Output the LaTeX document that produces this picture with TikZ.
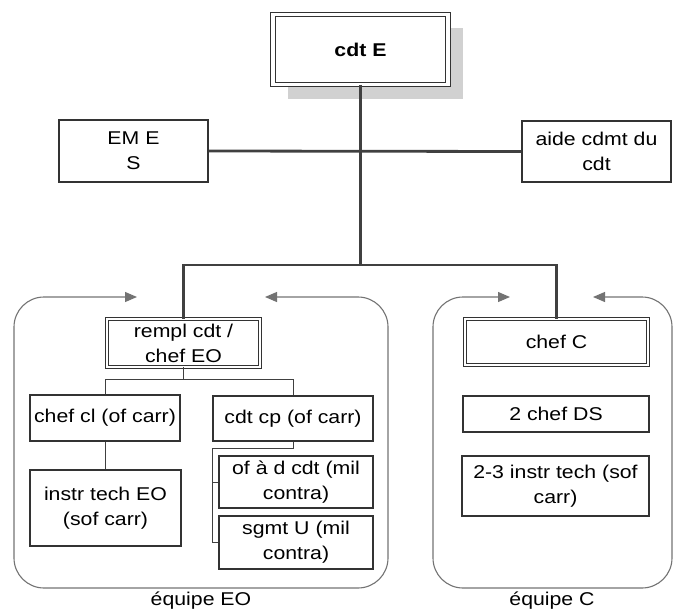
\documentclass[tikz,border=0pt]{standalone}
\usepackage{fontspec}
\setmainfont{Liberation Sans}[FakeStretch=1.15]
\usetikzlibrary{arrows.meta,shadows}

\begin{document}
\begin{tikzpicture}[x=1pt,y=-1pt,
            box/.style={draw=black!80, line width=1.1pt, fill=white, align=center, inner sep=0pt,
                        font=\fontsize{18.5}{25}\selectfont},
            headbox/.style={box, double=white, double distance=2.5pt, line width=0.9pt},
            trunk/.style={draw=black!75, line width=2.8pt},
            link/.style={draw=black!75, line width=1pt},
            teamline/.style={draw=black!55, line width=1.1pt, rounded corners=30pt,
                        >={Triangle[length=12pt,width=10pt]}, <->},
            teamlabel/.style={anchor=base, font=\fontsize{18.5}{25}\selectfont}
            ]
            \useasboundingbox (0,0) rectangle (674,610);

            % top row
            \node[headbox, double distance=3.5pt, minimum width=175, minimum height=70,
                  drop shadow={shadow xshift=15pt, shadow yshift=-14pt, fill=black!18, opacity=1},
                  font=\bfseries\fontsize{18.5}{25}\selectfont] (cdtE) at (360.5,49.5) {cdt E};
            \node[box, minimum width=149, minimum height=62] (emE)  at (133.5,151) {EM E\\S};
            \node[box, minimum width=149, minimum height=61] (aide) at (596.5,151.5) {aide cdmt du\\cdt};

            % team frames
            \draw[teamline] (137,297) -| (14,588) -| (388,297) -- (265,297);
            \draw[teamline] (510,297) -| (433,588) -| (672,297) -- (593,297);
            \node[teamlabel] (eqEO) at (201,605) {équipe EO};
            \node[teamlabel] (eqC)  at (552,605) {équipe C};

            % equipe EO
            \node[headbox, minimum width=153, minimum height=48] (rempl) at (183.5,343) {rempl cdt /\\chef EO};
            \node[box, minimum width=150, minimum height=46] (chefcl) at (105,418)   {chef cl (of carr)};
            \node[box, minimum width=160, minimum height=45] (cdtcp)  at (293,418.5) {cdt cp (of carr)};
            \node[box, minimum width=151, minimum height=76] (instr)  at (105.5,508) {instr tech EO\\(sof carr)};
            \node[box, minimum width=154, minimum height=52] (ofad)   at (296,482)   {of à d cdt (mil\\contra)};
            \node[box, minimum width=154, minimum height=53] (sgmt)   at (296,542.5) {sgmt U (mil\\contra)};

            % equipe C
            \node[headbox, minimum width=183, minimum height=46] (chefC) at (556.5,342) {chef C};
            \node[box, minimum width=186, minimum height=36] (chefDS) at (556,414)   {2 chef DS};
            \node[box, minimum width=187, minimum height=60] (instrC) at (555.5,486) {2-3 instr tech (sof\\carr)};

            % main lines
            \coordinate (split) at (360.5,265);
            \draw[trunk] (emE.east) -- (aide.west);
            \draw[trunk] (cdtE.south) -- (split);
            \draw[trunk] (rempl.north) |- (split) -| (chefC.north);

            % lines inside equipe EO
            \draw[link] (rempl.south) -- ++(0,12) coordinate (remplfork);
            \draw[link] (chefcl.north) |- (remplfork) -| (cdtcp.north);
            \draw[link] (chefcl.south) -- (chefcl.south |- instr.north);
            \coordinate (cpbus) at (212,448);
            \draw[link] (cdtcp.south) |- (cpbus) |- (sgmt.west);
            \draw[link] (cpbus |- ofad.west) -- (ofad.west);
\end{tikzpicture}
\end{document}
